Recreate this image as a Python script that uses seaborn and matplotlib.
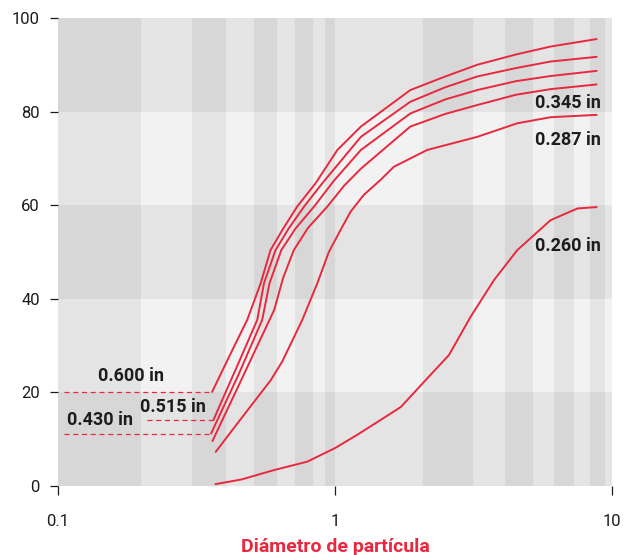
import numpy as np
import pandas as pd
import seaborn as sns
import matplotlib.pyplot as plt
from matplotlib.ticker import NullLocator

red = "#e8283e"
ink = "#1c1c1c"

# curves (particle diameter, % passing)
labels = ["0.600 in", "0.515 in", "0.430 in", "0.345 in", "0.287 in", "0.260 in"]

x_600 = [0.36, 0.42, 0.482, 0.539, 0.585, 0.65, 0.73, 0.851, 1.02, 1.24, 1.87, 2.5, 3.26, 4.5, 6.0, 8.8]
y_600 = [20.1, 28.3, 35.5, 43.3, 50.4, 55.0, 59.7, 64.7, 71.8, 76.8, 84.6, 87.5, 90.0, 92.2, 93.9, 95.5]

x_515 = [0.364, 0.45, 0.524, 0.554, 0.61, 0.68, 0.773, 0.9, 1.1, 1.24, 1.87, 2.5, 3.26, 4.5, 6.0, 8.8]
y_515 = [14.1, 26.5, 35.5, 43.3, 50.4, 55.0, 59.7, 64.7, 70.9, 74.6, 82.1, 85.2, 87.5, 89.3, 90.7, 91.7]

x_430 = [0.357, 0.45, 0.546, 0.58, 0.64, 0.72, 0.84, 0.99, 1.24, 1.87, 2.5, 3.26, 4.5, 6.0, 8.8]
y_430 = [11.2, 24.0, 35.5, 43.3, 50.4, 55.0, 59.7, 65.2, 71.8, 79.6, 82.6, 84.6, 86.5, 87.6, 88.7]

x_345 = [0.361, 0.45, 0.603, 0.65, 0.71, 0.8, 0.938, 1.08, 1.24, 1.87, 2.5, 3.26, 4.5, 6.0, 8.8]
y_345 = [9.6, 21.6, 37.6, 44.5, 50.4, 55.2, 59.7, 64.2, 67.8, 76.8, 79.5, 81.4, 83.6, 84.8, 85.8]

x_287 = [0.371, 0.45, 0.586, 0.645, 0.762, 0.863, 0.95, 1.047, 1.138, 1.27, 1.46, 1.63, 2.15, 3.26, 4.55, 6.0, 8.8]
y_287 = [7.3, 13.8, 22.6, 26.6, 35.5, 43.3, 50.0, 54.7, 58.6, 62.2, 65.4, 68.2, 71.8, 74.6, 77.5, 78.8, 79.3]

x_260 = [0.37, 0.46, 0.602, 0.794, 1.0, 1.2, 1.59, 1.73, 2.04, 2.58, 3.09, 3.75, 4.55, 6.0, 7.5, 8.8]
y_260 = [0.4, 1.4, 3.4, 5.2, 8.1, 10.9, 15.5, 16.9, 21.5, 28.0, 36.2, 44.0, 50.4, 56.8, 59.3, 59.6]

xs = [x_600, x_515, x_430, x_345, x_287, x_260]
ys = [y_600, y_515, y_430, y_345, y_287, y_260]

frames = []
for lab, xv, yv in zip(labels, xs, ys):
	frames.append(pd.DataFrame({"diametro": xv, "pasa": yv, "malla": lab}))
df = pd.concat(frames, ignore_index=True)

# background bands (darker stripes)
vbands = [(0.1, 0.2), (0.305, 0.405), (0.51, 0.615), (0.72, 0.83), (0.92, 1.0),
		  (2.07, 3.15), (4.1, 5.2), (6.2, 7.3), (8.35, 9.4)]
hbands = [(0, 20), (40, 60), (80, 100)]

sns.set_theme(style="white")
plt.rcParams['font.family'] = ['Roboto', 'DejaVu Sans']

fig = plt.figure(figsize=(6.29, 5.55), dpi=100)
ax = fig.add_axes([58 / 629, 1 - 486 / 555, (612 - 58) / 629, (486 - 18) / 555])
ax.set_facecolor("#f2f2f2")

for a, b in vbands:
	ax.axvspan(a, b, color="black", alpha=0.055, lw=0, zorder=0)
for a, b in hbands:
	ax.axhspan(a, b, color="black", alpha=0.055, lw=0, zorder=0)

sns.lineplot(data=df, x="diametro", y="pasa", hue="malla", units="malla", estimator=None,
			 sort=False, palette=[red] * 6, legend=False, lw=1.4, ax=ax)
for line in ax.lines:
	line.set_solid_joinstyle("round")

ax.set_xscale("log")
ax.set_xlim(0.1, 10)
ax.set_ylim(0, 100)
ax.xaxis.set_minor_locator(NullLocator())
ax.set_xticks([0.1, 1, 10])
ax.set_xticklabels(["0.1", "1", "10"])
ax.set_yticks([0, 20, 40, 60, 80, 100])
for s in ax.spines.values():
	s.set_visible(False)
ax.tick_params(axis="y", left=True, length=6, width=0.9, color=ink, pad=7, labelsize=12, labelcolor=ink)
ax.tick_params(axis="x", bottom=True, length=6.5, width=0.9, color=ink, pad=14, labelsize=12, labelcolor=ink)
ax.set_ylabel("")
ax.set_xlabel("Diámetro de partícula", color=red, fontweight="bold", fontsize=14, labelpad=6)

# dashed guides to the starting values of the three upper curves
guides = [(0.1054, y_600[0]), (0.21, y_515[0]), (0.1054, y_430[0])]
for (x0, yv), xe in zip(guides, [x_600[0], x_515[0], x_430[0]]):
	ax.plot([x0, xe], [yv, yv], color=red, lw=0.9, ls=(0, (4, 3)))

lab_kw = dict(fontsize=13, fontweight="bold", color=ink, va="center")
ax.text(0.184, 23.5, labels[0], ha="center", **lab_kw)
ax.text(0.261, 16.9, labels[1], ha="center", **lab_kw)
ax.text(0.1417, 14.1, labels[2], ha="center", **lab_kw)
ax.text(9.08, 81.9, labels[3], ha="right", **lab_kw)
ax.text(9.08, 73.9, labels[4], ha="right", **lab_kw)
ax.text(9.08, 51.3, labels[5], ha="right", **lab_kw)

fig.savefig("out.png", dpi=100)
